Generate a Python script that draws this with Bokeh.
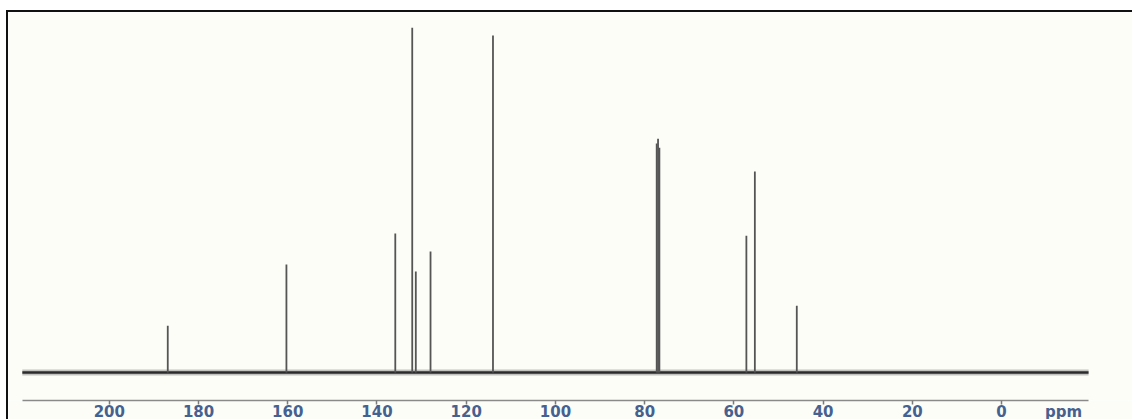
from bokeh.plotting import figure
from bokeh.models import Range1d, FixedTicker
from bokeh.embed import file_html
from bokeh.resources import INLINE

# 13C NMR peaks (chemical shift in ppm, relative intensity)
shift_ppm = [186.9, 160.3, 135.9, 132.1, 131.3, 128.0, 114.0, 77.3, 77.0, 76.7, 57.2, 55.3, 45.9]
intensity = [13.6, 31.3, 40.3, 100.0, 29.3, 35.1, 97.7, 66.4, 67.8, 65.2, 39.7, 58.3, 19.4]

# baseline extent (ppm) and level
baseline_ppm = [219.5, -19.5]
baseline_int = [0.0, 0.0]

tick_values = [200, 180, 160, 140, 120, 100, 80, 60, 40, 20, 0]
unit_label = "ppm"
unit_position = -13.9

LABEL_COLOR = "#46618f"
BG = "#fcfdf7"

p = figure(width=1126, height=411, output_backend="svg", toolbar_location=None,
           x_range=Range1d(222.6, -29.8), y_range=Range1d(-8.1, 104.4),
           y_axis_location=None, min_border_left=0, min_border_right=0,
           min_border_top=0, min_border_bottom=0)
p.background_fill_color = BG
p.border_fill_color = BG
p.outline_line_color = None
p.grid.visible = False
p.styles = {"margin-left": "6px", "margin-top": "10px",
            "border-top": "2px solid #111", "border-left": "2px solid #111"}

# baseline (drawn thick to mimic the noisy trace)
p.line(baseline_ppm, baseline_int, line_width=6, line_color="#888888", line_alpha=0.5)
p.line(baseline_ppm, baseline_int, line_width=2.5, line_color="#2b2b2b")

# peaks
p.segment(x0=shift_ppm, y0=[0.0] * len(shift_ppm), x1=shift_ppm, y1=intensity,
          line_width=1.8, line_color="#555555")

ax = p.xaxis[0]
ax.ticker = FixedTicker(ticks=tick_values + [unit_position], minor_ticks=tick_values)
ax.major_label_overrides = {unit_position: unit_label}
ax.bounds = (-19.5, 219.5)
ax.axis_line_color = "#8a8a8a"
ax.axis_line_width = 1.5
ax.major_tick_out = 0
ax.major_tick_in = 0
ax.minor_tick_line_color = "#7a7a7a"
ax.minor_tick_line_width = 1.5
ax.minor_tick_out = 4
ax.minor_tick_in = 0
ax.major_label_standoff = -2
ax.major_label_text_font = "DejaVu Sans"
ax.major_label_text_font_style = "bold"
ax.major_label_text_font_size = "15px"
ax.major_label_text_color = LABEL_COLOR

open("out.html", "w").write(file_html(p, INLINE))
